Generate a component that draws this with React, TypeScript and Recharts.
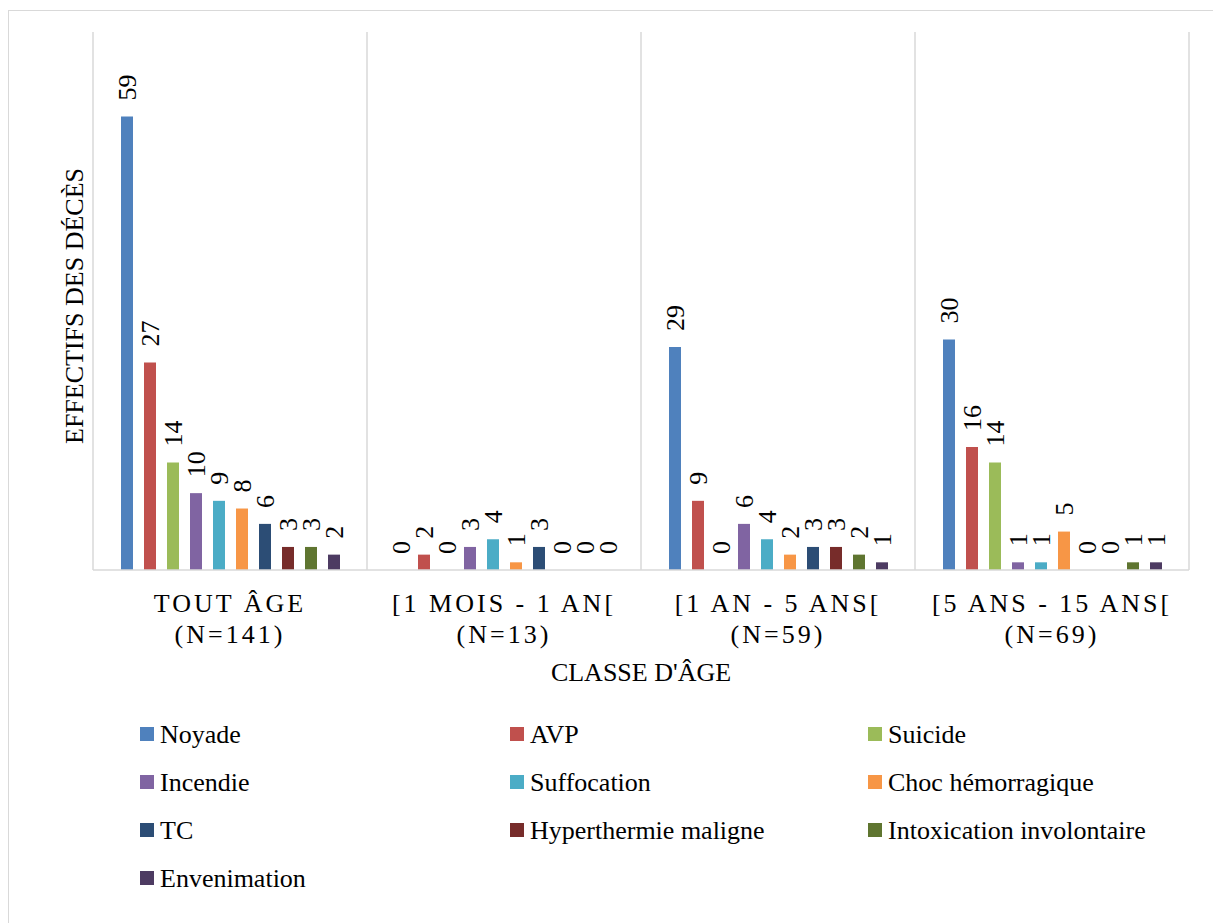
import React from "react";
import { BarChart, Bar, XAxis, YAxis, CartesianGrid, LabelList } from "recharts";

const categories = ["TOUT ÂGE", "[1 MOIS - 1 AN[", "[1 AN - 5 ANS[", "[5 ANS - 15 ANS["];
const counts = ["(N=141)", "(N=13)", "(N=59)", "(N=69)"];

const seriesNames = [
  "Noyade",
  "AVP",
  "Suicide",
  "Incendie",
  "Suffocation",
  "Choc hémorragique",
  "TC",
  "Hyperthermie maligne",
  "Intoxication involontaire",
  "Envenimation",
];
const seriesColors = [
  "#4F81BD",
  "#C0504D",
  "#9BBB59",
  "#8064A2",
  "#4BACC6",
  "#F79646",
  "#2C4D75",
  "#772C2A",
  "#5F7530",
  "#4D3B62",
];

const noyade = [59, 0, 29, 30];
const avp = [27, 2, 9, 16];
const suicide = [14, 0, 0, 14];
const incendie = [10, 3, 6, 1];
const suffocation = [9, 4, 4, 1];
const choc = [8, 1, 2, 5];
const tc = [6, 3, 3, 0];
const hyperthermie = [3, 0, 3, 0];
const intoxication = [3, 0, 2, 1];
const envenimation = [2, 0, 1, 1];

const seriesValues = [
  noyade,
  avp,
  suicide,
  incendie,
  suffocation,
  choc,
  tc,
  hyperthermie,
  intoxication,
  envenimation,
];

const yDomain = [0, 70];

const keys = seriesNames.map((_, i) => "s" + i);
const data = categories.map((c, ci) => {
  const row: Record<string, any> = { cat: c, n: counts[ci] };
  seriesValues.forEach((vals, si) => {
    row[keys[si]] = vals[ci];
  });
  return row;
});

const FONT = "'Liberation Serif', 'Times New Roman', Times, 'DejaVu Serif', serif";

const CatTick = (props: any) => {
  const { x, y, payload, index } = props;
  return (
    <g>
      <text
        x={x}
        y={y + 34}
        textAnchor="middle"
        style={{ fontFamily: FONT, fontSize: 26, letterSpacing: 3 }}
        fill="#000"
      >
        {payload.value}
      </text>
      <text
        x={x}
        y={y + 65}
        textAnchor="middle"
        style={{ fontFamily: FONT, fontSize: 26, letterSpacing: 3 }}
        fill="#000"
      >
        {counts[index]}
      </text>
    </g>
  );
};

const ValueLabel = (props: any) => {
  const { x, y, width, value } = props;
  const cx = x + width / 2;
  const ty = y - 16;
  return (
    <text
      x={cx}
      y={ty}
      transform={`rotate(-90 ${cx} ${ty})`}
      textAnchor="start"
      dy="0.34em"
      style={{ fontFamily: FONT, fontSize: 26 }}
      fill="#000"
    >
      {value}
    </text>
  );
};

const YTitle = (props: any) => {
  const vb = props.viewBox || { x: 0, y: 0, width: 84, height: 538 };
  const x = vb.x + 74;
  const y = vb.y + vb.height / 2 + 5;
  return (
    <text
      x={x}
      y={y}
      transform={`rotate(-90 ${x} ${y})`}
      textAnchor="middle"
      style={{ fontFamily: FONT, fontSize: 26 }}
      fill="#000"
    >
      EFFECTIFS DES DÉCÈS
    </text>
  );
};

const XTitle = (props: any) => {
  const vb = props.viewBox || { x: 84, y: 548, width: 1096, height: 111 };
  return (
    <text
      x={vb.x + vb.width / 2}
      y={vb.y + 111}
      textAnchor="middle"
      style={{ fontFamily: FONT, fontSize: 26 }}
      fill="#000"
    >
      CLASSE D'ÂGE
    </text>
  );
};

const legendCols = [131, 501, 859];
const legendRowTop = [716, 764, 812, 860];

export default function App() {
  return (
    <div
      style={{
        position: "fixed",
        left: 8,
        top: 10,
        width: 1204,
        height: 913,
        borderLeft: "1px solid #d9d9d9",
        borderTop: "1px solid #d9d9d9",
        background: "#fff",
        fontFamily: FONT,
      }}
    >
      <BarChart
        width={1204}
        height={700}
        data={data}
        margin={{ top: 21, right: 24, left: 0, bottom: 30 }}
        barSize={12}
        barGap={11}
      >
        <CartesianGrid
          horizontal={false}
          vertical={true}
          stroke="#d9d9d9"
          strokeWidth={1.5}
          verticalCoordinatesGenerator={({ offset }: any) =>
            [0, 1, 2, 3, 4].map((i) => offset.left + (i * offset.width) / 4)
          }
        />
        <XAxis
          dataKey="cat"
          height={111}
          axisLine={{ stroke: "#d9d9d9", strokeWidth: 1.5 }}
          tickLine={false}
          tick={<CatTick />}
          interval={0}
          label={{ content: <XTitle /> }}
        />
        <YAxis
          width={84}
          domain={yDomain}
          axisLine={false}
          tickLine={false}
          tick={false}
          label={{ content: <YTitle /> }}
        />
        {keys.map((k, i) => (
          <Bar
            key={k}
            dataKey={k}
            fill={seriesColors[i]}
            minPointSize={0.01}
            isAnimationActive={false}
          >
            <LabelList dataKey={k} content={<ValueLabel />} />
          </Bar>
        ))}
      </BarChart>
      {seriesNames.map((name, i) => {
        const col = i % 3;
        const row = Math.floor(i / 3);
        return (
          <div
            key={name}
            style={{
              position: "absolute",
              left: legendCols[col],
              top: legendRowTop[row],
              height: 14,
              display: "flex",
              alignItems: "center",
              whiteSpace: "nowrap",
            }}
          >
            <div style={{ width: 14, height: 14, background: seriesColors[i], marginRight: 6 }} />
            <span
              style={{
                fontFamily: FONT,
                fontSize: 26,
                color: "#000",
                lineHeight: "14px",
                position: "relative",
                top: 1,
              }}
            >
              {name}
            </span>
          </div>
        );
      })}
    </div>
  );
}
